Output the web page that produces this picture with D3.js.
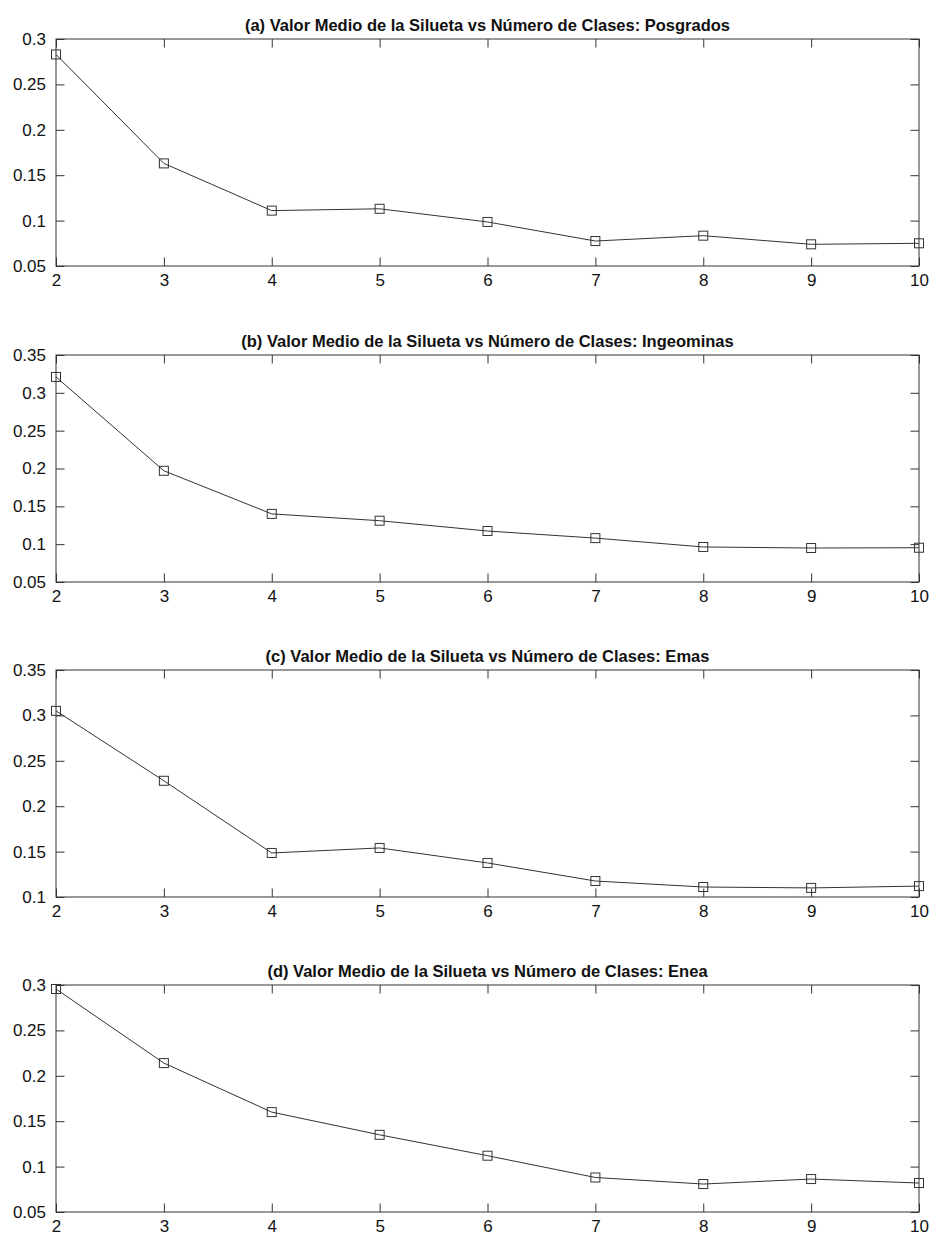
<!DOCTYPE html>
<html><head><meta charset="utf-8">
<script src="https://cdn.jsdelivr.net/npm/d3@7"></script>
<style>body{margin:0;background:#fff}svg{display:block}text{font-family:"Liberation Sans",Arial,Helvetica,sans-serif}</style>
</head><body><svg id="c" width="932" height="1237"></svg>
<script>
const clases = [2,3,4,5,6,7,8,9,10];
const titles = [
  "(a) Valor Medio de la Silueta vs Número de Clases: Posgrados",
  "(b) Valor Medio de la Silueta vs Número de Clases: Ingeominas",
  "(c) Valor Medio de la Silueta vs Número de Clases: Emas",
  "(d) Valor Medio de la Silueta vs Número de Clases: Enea"
];
const posgrados  = [0.283,0.163,0.111,0.113,0.0985,0.0775,0.0834,0.0739,0.075];
const ingeominas = [0.321,0.197,0.140,0.131,0.1174,0.108,0.0963,0.0949,0.0953];
const emas       = [0.305,0.228,0.1485,0.154,0.1375,0.1176,0.111,0.110,0.112];
const enea       = [0.2956,0.214,0.160,0.135,0.112,0.0880,0.0808,0.0863,0.0819];
const series = [posgrados, ingeominas, emas, enea];
const yDomains = [[0.05,0.3],[0.05,0.35],[0.1,0.35],[0.05,0.3]];
const yTicks = [
  [0.05,0.1,0.15,0.2,0.25,0.3],
  [0.05,0.1,0.15,0.2,0.25,0.3,0.35],
  [0.1,0.15,0.2,0.25,0.3,0.35],
  [0.05,0.1,0.15,0.2,0.25,0.3]
];

const svg = d3.select("#c");
const left = 56, right = 919, ph = 227;
const tops = [39, 355, 670, 985];
const col = "#333";
const fmt = v => String(+v.toFixed(2));

series.forEach((vals, i) => {
  const top = tops[i], bottom = top + ph;
  const x = d3.scaleLinear().domain([2,10]).range([left,right]);
  const y = d3.scaleLinear().domain(yDomains[i]).range([bottom, top]);
  const g = svg.append("g");

  g.append("rect").attr("x",left).attr("y",top).attr("width",right-left).attr("height",ph)
    .attr("fill","none").attr("stroke",col).attr("stroke-width",1);

  const xb = g.append("g").attr("transform",`translate(0,${bottom})`)
    .call(d3.axisBottom(x).tickValues(clases).tickSize(-8.5).tickPadding(8).tickFormat(d3.format("d")));
  const xt = g.append("g").attr("transform",`translate(0,${top})`)
    .call(d3.axisTop(x).tickValues(clases).tickSize(-8.5).tickFormat(""));
  const yl = g.append("g").attr("transform",`translate(${left},0)`)
    .call(d3.axisLeft(y).tickValues(yTicks[i]).tickSize(-8.5).tickPadding(10).tickFormat(fmt));
  const yr = g.append("g").attr("transform",`translate(${right},0)`)
    .call(d3.axisRight(y).tickValues(yTicks[i]).tickSize(-8.5).tickFormat(""));
  [xb,xt,yl,yr].forEach(a => {
    a.select(".domain").remove();
    a.selectAll("line").attr("stroke",col);
    a.selectAll("text").attr("fill","#111").style("font-size","17px")
      .style("font-family",'"Liberation Sans",Arial,sans-serif');
  });

  g.append("text").attr("x",(left+right)/2).attr("y",top-8).attr("text-anchor","middle")
    .style("font-size","16.5px").style("font-weight","bold").attr("fill","#111").text(titles[i]);

  const line = d3.line().x((d,j)=>x(clases[j])).y(d=>y(d));
  g.append("path").datum(vals).attr("d",line).attr("fill","none").attr("stroke",col).attr("stroke-width",1);
  g.selectAll("rect.m").data(vals).join("rect").attr("class","m")
    .attr("x",(d,j)=>x(clases[j])-4.5).attr("y",d=>y(d)-4.5)
    .attr("width",9).attr("height",9).attr("fill","none").attr("stroke",col).attr("stroke-width",1);
});
</script></body></html>
